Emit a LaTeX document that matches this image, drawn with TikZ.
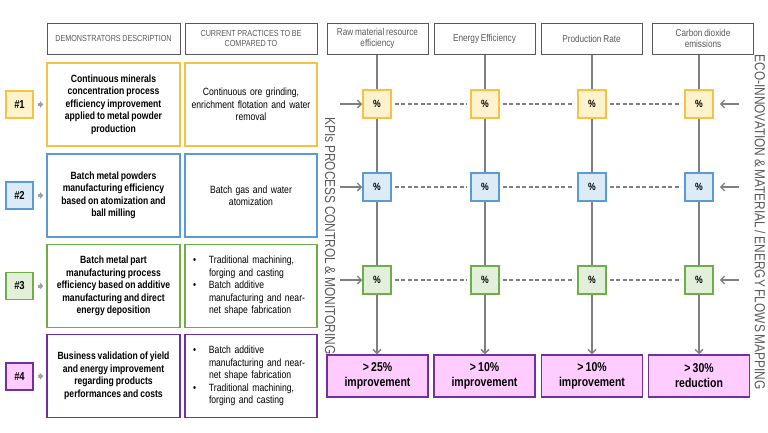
\documentclass[tikz,border=0pt]{standalone}
\usepackage{fontspec}
\setmainfont{Liberation Sans}[FakeStretch=0.82,WordSpace=0.8]
\usetikzlibrary{arrows.meta,positioning}
\definecolor{hdrgray}{HTML}{595959}
\definecolor{linegray}{HTML}{7F7F7F}
\definecolor{ylw}{HTML}{F5C243}
\definecolor{ylwfill}{HTML}{FFF2CC}
\definecolor{blu}{HTML}{5B9BD5}
\definecolor{blufill}{HTML}{DDEBF7}
\definecolor{grn}{HTML}{70AD47}
\definecolor{grnfill}{HTML}{E2EFDA}
\definecolor{prp}{HTML}{7030A0}
\definecolor{prpfill}{HTML}{FFCCFF}
\newcommand{\bulitem}{\makebox[16pt][l]{\textbullet}}
\newcommand{\bulcont}{\hspace*{16pt}}

\begin{document}
\begin{tikzpicture}[x=1pt,y=-1pt,
    hdr/.style={draw=hdrgray,line width=1pt,text=hdrgray,minimum height=31pt,inner sep=0pt,align=center,font=\fontsize{8.8}{10.7}\selectfont},
    kpi/.style={hdr,minimum width=101pt,font=\fontsize{10}{11}\selectfont},
    demo/.style={draw=#1,line width=1.5pt,minimum width=133pt,minimum height=83pt,inner sep=0pt,align=center,font=\bfseries\fontsize{10.5}{12.5}\selectfont},
    cur/.style={draw=#1,line width=1.5pt,minimum width=132pt,minimum height=83pt,inner sep=0pt,text width=128pt,align=center,font=\fontsize{10.5}{12.5}\selectfont},
    bul/.style={cur=#1,text width=116pt,align=left},
    num/.style 2 args={draw=#1,fill=#2,line width=1.5pt,minimum size=27pt,inner sep=0pt,font=\bfseries\fontsize{11.5}{12}\selectfont},
    pct/.style 2 args={draw=#1,fill=#2,line width=1.5pt,minimum size=28pt,inner sep=0pt,font=\bfseries\fontsize{10.5}{12}\selectfont},
    res/.style={draw=prp,fill=prpfill,line width=1.5pt,minimum width=101pt,minimum height=42pt,inner sep=0pt,align=center,font=\bfseries\fontsize{12.8}{15}\selectfont},
    blk/.style={-{Triangle[length=3.5pt,width=7pt]},line width=3pt,draw=gray!75,shorten <=4.5pt,shorten >=3pt},
    vline/.style={draw=linegray,line width=1.3pt},
    varrow/.style={vline,-{Straight Barb[length=4pt,width=8pt]}},
    hdash/.style={draw=linegray,line width=1.3pt,dash pattern=on 4pt off 2.5pt,shorten <=3pt,shorten >=3pt},
    side/.style={text=hdrgray,rotate=-90,font=\fontsize{14.5}{16}\selectfont}]
  \useasboundingbox (0,0) rectangle (768,432);

  % column headers
  \node [hdr,minimum width=133pt] (hdemo) at (113.5,38.5) {DEMONSTRATORS DESCRIPTION};
  \node [hdr,minimum width=132pt] (hcur) at (251,38.5) {CURRENT PRACTICES TO BE\\COMPARED TO};
  \node [kpi] (k1) at (377.5,38.5) {Raw material resource\\efficiency};
  \node [kpi] (k2) at (484.5,38.5) {Energy Efficiency};
  \node [kpi] (k3) at (591.5,38.5) {Production Rate};
  \node [kpi] (k4) at (703,38.5) {Carbon dioxide\\emissions};

  % demonstrators
  \node [num={ylw}{ylwfill}] (n1) at (19.5,104.5) {\#1};
  \node [num={blu}{blufill}] (n2) at (19.5,195.5) {\#2};
  \node [num={grn}{grnfill}] (n3) at (19.5,286) {\#3};
  \node [num={prp}{prpfill}] (n4) at (19.5,376.5) {\#4};

  \node [demo=ylw] (d1) at (113.5,104.5) {Continuous minerals\\concentration process\\efficiency improvement\\applied to metal powder\\production};
  \node [demo=blu] (d2) at (113.5,195.5) {Batch metal powders\\manufacturing efficiency\\based on atomization and\\ball milling};
  \node [demo=grn] (d3) at (113.5,286) {Batch metal part\\manufacturing process\\efficiency based on additive\\manufacturing and direct\\energy deposition};
  \node [demo=prp] (d4) at (113.5,376) {Business validation of yield\\and energy improvement\\regarding products\\performances and costs};

  \node [cur=ylw] (c1) at (251,104.5) {Continuous ore grinding,\\enrichment flotation and water\\removal};
  \node [cur=blu] (c2) at (251,195.5) {Batch gas and water\\atomization};
  \node [bul=grn] (c3) at (251,286) {\bulitem Traditional machining,\\\bulcont forging and casting\\\bulitem Batch additive\\\bulcont manufacturing and near-\\\bulcont net shape fabrication};
  \node [bul=prp] (c4) at (251,376) {\bulitem Batch additive\\\bulcont manufacturing and near-\\\bulcont net shape fabrication\\\bulitem Traditional machining,\\\bulcont forging and casting};

  \draw [blk] (n1.east) -- (d1.west);
  \draw [blk] (n2.east) -- (d2.west);
  \draw [blk] (n3.east) -- (d3.west);
  \draw [blk] (n4.east) -- (d4.west);

  % KPI matrix
  \node [pct={ylw}{ylwfill}] (p11) at (377,104) {\%};
  \node [pct={ylw}{ylwfill}] (p12) at (485,104) {\%};
  \node [pct={ylw}{ylwfill}] (p13) at (592,104) {\%};
  \node [pct={ylw}{ylwfill}] (p14) at (699,104) {\%};
  \node [pct={blu}{blufill}] (p21) at (377,187) {\%};
  \node [pct={blu}{blufill}] (p22) at (485,187) {\%};
  \node [pct={blu}{blufill}] (p23) at (592,187) {\%};
  \node [pct={blu}{blufill}] (p24) at (699,187) {\%};
  \node [pct={grn}{grnfill}] (p31) at (377,280) {\%};
  \node [pct={grn}{grnfill}] (p32) at (485,280) {\%};
  \node [pct={grn}{grnfill}] (p33) at (592,280) {\%};
  \node [pct={grn}{grnfill}] (p34) at (699,280) {\%};

  \node [res] (r1) at (377.5,376) {> 25\%\\improvement};
  \node [res] (r2) at (484.5,376) {> 10\%\\improvement};
  \node [res] (r3) at (592,376) {> 10\%\\improvement};
  \node [res] (r4) at (699,376) {> 30\%\\reduction};

  % vertical flows
  \draw [vline] (p11 |- k1.south) -- (p11) -- (p21) -- (p31);
  \draw [vline] (p12 |- k2.south) -- (p12) -- (p22) -- (p32);
  \draw [vline] (p13 |- k3.south) -- (p13) -- (p23) -- (p33);
  \draw [vline] (p14 |- k4.south) -- (p14) -- (p24) -- (p34);
  \draw [varrow] (p31) -- (p31 |- r1.north);
  \draw [varrow] (p32) -- (p32 |- r2.north);
  \draw [varrow] (p33) -- (p33 |- r3.north);
  \draw [varrow] (p34) -- (p34 |- r4.north);

  % horizontal flows
  \coordinate (l1) at (340,104);
  \coordinate (l2) at (340,187);
  \coordinate (l3) at (340,280);
  \coordinate (e1) at (739,104);
  \coordinate (e2) at (739,187);
  \coordinate (e3) at (739,280);
  \draw [varrow] (l1) -- (p11);
  \draw [varrow] (l2) -- (p21);
  \draw [varrow] (l3) -- (p31);
  \draw [varrow,shorten >=6pt] (e1) -- (p14);
  \draw [varrow,shorten >=6pt] (e2) -- (p24);
  \draw [varrow,shorten >=6pt] (e3) -- (p34);
  \draw [hdash] (p11) -- (p12);
  \draw [hdash] (p12) -- (p13);
  \draw [hdash] (p13) -- (p14);
  \draw [hdash] (p21) -- (p22);
  \draw [hdash] (p22) -- (p23);
  \draw [hdash] (p23) -- (p24);
  \draw [hdash] (p31) -- (p32);
  \draw [hdash] (p32) -- (p33);
  \draw [hdash] (p33) -- (p34);

  % side labels
  \node [side] (kpiside) at (330,236) {KPIs PROCESS CONTROL \& MONITORING};
  \node [side] (ecoside) at (760,222) {ECO-INNOVATION \& MATERIAL / ENERGY FLOWS MAPPING};
\end{tikzpicture}
\end{document}
